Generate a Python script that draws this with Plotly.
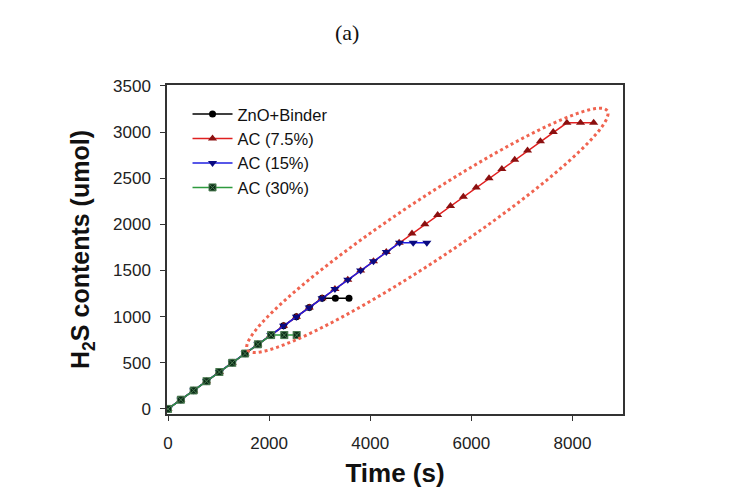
import numpy as np
import plotly.graph_objects as go

# ---------------- data ----------------
zno_time = [0, 254, 508, 762, 1016, 1270, 1524, 1778, 2032, 2286, 2540, 2794, 3048, 3310, 3580]
zno_h2s = [0, 100, 200, 300, 400, 500, 600, 700, 800, 900, 1000, 1100, 1200, 1200, 1200]

ac75_time = [0, 254, 508, 762, 1016, 1270, 1524, 1778, 2032, 2286, 2540, 2794, 3048, 3302,
             3556, 3810, 4064, 4318, 4572, 4826, 5080, 5334, 5588, 5842, 6096, 6350, 6604,
             6858, 7112, 7366, 7620, 7890, 8160, 8420]
ac75_h2s = [0, 100, 200, 300, 400, 500, 600, 700, 800, 900, 1000, 1100, 1200, 1300,
            1400, 1500, 1600, 1700, 1800, 1900, 2000, 2100, 2200, 2300, 2400, 2500, 2600,
            2700, 2800, 2900, 3000, 3100, 3100, 3100]

ac15_time = [0, 254, 508, 762, 1016, 1270, 1524, 1778, 2032, 2286, 2540, 2794, 3048, 3302,
             3556, 3810, 4064, 4318, 4580, 4850, 5120]
ac15_h2s = [0, 100, 200, 300, 400, 500, 600, 700, 800, 900, 1000, 1100, 1200, 1300,
            1400, 1500, 1600, 1700, 1800, 1800, 1800]

ac30_time = [0, 254, 508, 762, 1016, 1270, 1524, 1778, 2040, 2300, 2545]
ac30_h2s = [0, 100, 200, 300, 400, 500, 600, 700, 800, 800, 800]

x_ticks = [0, 2000, 4000, 6000, 8000]
y_ticks = [0, 500, 1000, 1500, 2000, 2500, 3000, 3500]

# ---------------- layout geometry ----------------
# page body adds an 8px margin, so the figure is sized/offset to compensate
W, H = 724, 495
ML, MR, MT, MB = 159, 109, 77, 89
X_RANGE = [-20, 9000]
Y_RANGE = [-55, 3510]
plot_w = W - ML - MR
plot_h = H - MT - MB
sx = plot_w / (X_RANGE[1] - X_RANGE[0])  # px per data unit
sy = plot_h / (Y_RANGE[1] - Y_RANGE[0])

# highlight ellipse (center in data units, axes in px, tilt in degrees)
ell_cx, ell_cy = 5130, 1935
ell_a, ell_b, ell_ang = 216, 30, 33.6

phi = np.linspace(0, 2 * np.pi, 200)
th = np.deg2rad(ell_ang)
px = ell_a * np.cos(phi) * np.cos(th) - ell_b * np.sin(phi) * np.sin(th)
py = ell_a * np.cos(phi) * np.sin(th) + ell_b * np.sin(phi) * np.cos(th)
ex = ell_cx + px / sx
ey = ell_cy + py / sy
path = "M " + " L ".join(f"{a:.1f},{b:.1f}" for a, b in zip(ex, ey)) + " Z"

fig = go.Figure()

fig.add_trace(go.Scatter(x=zno_time, y=zno_h2s, name="ZnO+Binder", mode="lines+markers",
                         line=dict(color="black", width=1.5),
                         marker=dict(symbol="circle", size=7, color="black")))
fig.add_trace(go.Scatter(x=ac75_time, y=ac75_h2s, name="AC (7.5%)", mode="lines+markers",
                         line=dict(color="#e02020", width=1.5),
                         marker=dict(symbol="triangle-up", size=8, color="#8b1010")))
fig.add_trace(go.Scatter(x=ac15_time, y=ac15_h2s, name="AC (15%)", mode="lines+markers",
                         line=dict(color="#1f1fe0", width=1.5),
                         marker=dict(symbol="triangle-down", size=8, color="#0a0a80")))
fig.add_trace(go.Scatter(x=ac30_time, y=ac30_h2s, name="AC (30%)", mode="lines+markers",
                         line=dict(color="#2e9a3e", width=1.5),
                         marker=dict(symbol="square-x", size=7, color="#0b2e18",
                                     line=dict(color="#4a7a50", width=1))))

fig.add_shape(type="path", path=path, xref="x", yref="y",
              line=dict(color="rgb(240,100,80)", width=3, dash="dot"))

axis_common = dict(showline=True, linecolor="#333333", linewidth=1.5, mirror=True,
                   ticks="outside", ticklen=5, tickcolor="#333333", tickwidth=1.2,
                   showgrid=False, zeroline=False,
                   tickfont=dict(family="Arial", size=17, color="#222222"))

fig.update_layout(
    width=W, height=H,
    margin=dict(l=ML, r=MR, t=MT, b=MB),
    paper_bgcolor="white", plot_bgcolor="white",
    xaxis=dict(range=X_RANGE, tickvals=x_ticks, ticklabelstandoff=8,
               title=dict(text="<b>Time (s)</b>", font=dict(family="Arial", size=26, color="#111111"),
                          standoff=12),
               **axis_common),
    yaxis=dict(range=Y_RANGE, tickvals=y_ticks, ticklabelstandoff=6,
               title=dict(text="<b>H<sub>2</sub>S contents (umol)</b>",
                          font=dict(family="Arial", size=25, color="#111111"), standoff=16),
               **axis_common),
    legend=dict(x=0.045, y=0.964, xanchor="left", yanchor="top",
                bgcolor="rgba(0,0,0,0)", font=dict(family="Arial", size=16.5, color="#111111"),
                tracegroupgap=0, itemwidth=40),
    showlegend=True,
    annotations=[dict(text="(a)", x=0.395, y=1.161, xref="paper", yref="paper",
                      showarrow=False, xanchor="center", yanchor="middle",
                      font=dict(family="Liberation Serif", size=22, color="#111111"))],
)

fig.write_html("out.html")
